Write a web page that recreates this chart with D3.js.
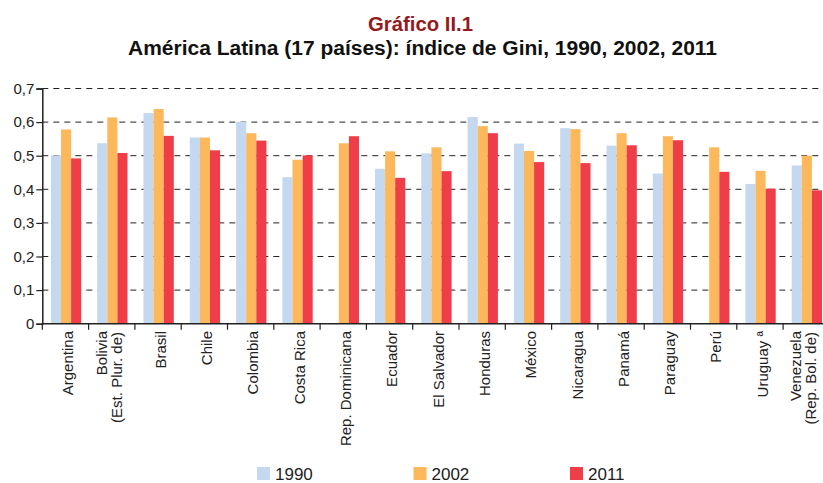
<!DOCTYPE html>
<html>
<head>
<meta charset="utf-8">
<script src="https://cdn.jsdelivr.net/npm/d3@7"></script>
<style>
  body { margin: 0; background: #fff; }
  svg { display: block; }
</style>
</head>
<body>
<svg id="chart" width="823" height="483"></svg>
<script>
const countries = ['Argentina', 'Bolivia|(Est. Plur. de)', 'Brasil', 'Chile', 'Colombia', 'Costa Rica',
  'Rep. Dominicana', 'Ecuador', 'El Salvador', 'Honduras', 'México', 'Nicaragua', 'Panamá',
  'Paraguay', 'Perú', 'Uruguay ª', 'Venezuela|(Rep. Bol. de)'];
const years = ['1990', '2002', '2011'];
const gini1990 = [0.501, 0.537, 0.627, 0.554, 0.601, 0.436, null, 0.461, 0.507, 0.615, 0.536, 0.582, 0.530, 0.447, null, 0.416, 0.471];
const gini2002 = [0.578, 0.614, 0.639, 0.554, 0.567, 0.488, 0.537, 0.513, 0.525, 0.588, 0.514, 0.579, 0.567, 0.558, 0.525, 0.455, 0.500];
const gini2011 = [0.492, 0.508, 0.559, 0.516, 0.545, 0.501, 0.558, 0.434, 0.454, 0.567, 0.481, 0.478, 0.531, 0.546, 0.452, 0.402, 0.397];
const yTicks = [0, 0.1, 0.2, 0.3, 0.4, 0.5, 0.6, 0.7];

const colors = { '1990': '#c4d8ef', '2002': '#fcb85a', '2011': '#ef3e48' };
const series = { '1990': gini1990, '2002': gini2002, '2011': gini2011 };
const font = '"Liberation Sans", Arial, sans-serif';

const svg = d3.select('#chart');
const plotLeft = 42.3, plotTop = 88.5, plotBottom = 323.7;

const x = d3.scaleBand().domain(countries).range([plotLeft, plotLeft + 17 * 46.3]);
const x1 = d3.scaleBand().domain(years).range([8.6, 38.9]);
const y = d3.scaleLinear().domain([0, 0.7]).range([plotBottom, plotTop]);

// titles (condensed look via textLength)
svg.append('text')
  .attr('x', 368).attr('y', 31)
  .attr('font-family', font)
  .attr('font-weight', 'bold')
  .attr('font-size', '21px')
  .attr('fill', '#931b1d')
  .attr('textLength', 105)
  .attr('lengthAdjust', 'spacingAndGlyphs')
  .text('Gráfico II.1');

svg.append('text')
  .attr('x', 128).attr('y', 55)
  .attr('font-family', font)
  .attr('font-weight', 'bold')
  .attr('font-size', '20px')
  .attr('fill', '#111')
  .attr('textLength', 589)
  .attr('lengthAdjust', 'spacingAndGlyphs')
  .text('América Latina (17 países): índice de Gini, 1990, 2002, 2011');

// gridlines
svg.append('g')
  .selectAll('line')
  .data(yTicks.filter(d => d > 0))
  .join('line')
  .attr('x1', plotLeft).attr('x2', 823)
  .attr('y1', d => y(d)).attr('y2', d => y(d))
  .attr('stroke', '#222')
  .attr('stroke-width', 1)
  .attr('stroke-dasharray', '6,5');

// bars
const groups = svg.append('g')
  .selectAll('g')
  .data(countries)
  .join('g')
  .attr('transform', d => `translate(${x(d)},0)`);

groups.selectAll('rect')
  .data((d, i) => years.map(yr => ({ yr, v: series[yr][i] })).filter(o => o.v != null))
  .join('rect')
  .attr('x', d => x1(d.yr))
  .attr('width', x1.bandwidth())
  .attr('y', d => y(d.v))
  .attr('height', d => y(0) - y(d.v))
  .attr('fill', d => colors[d.yr]);

// y axis
const yAxis = svg.append('g')
  .attr('transform', `translate(${plotLeft},0)`)
  .call(d3.axisLeft(y).tickValues(yTicks).tickFormat(d => d === 0 ? '0' : d3.format('.1f')(d).replace('.', ',')).tickSizeOuter(0).tickSize(6));
yAxis.select('.domain').attr('stroke', '#222').attr('stroke-width', 1.5);
yAxis.selectAll('line').attr('stroke', '#222').attr('stroke-width', 1.2);
yAxis.selectAll('text')
  .attr('font-family', font)
  .attr('font-size', '15px')
  .attr('fill', '#222')
  .attr('x', -8);

// x axis line and category ticks
svg.append('line')
  .attr('x1', plotLeft).attr('x2', 823)
  .attr('y1', plotBottom).attr('y2', plotBottom)
  .attr('stroke', '#222').attr('stroke-width', 1.5);

svg.append('g')
  .selectAll('line')
  .data(countries)
  .join('line')
  .attr('x1', d => x(d)).attr('x2', d => x(d))
  .attr('y1', plotBottom).attr('y2', plotBottom + 6)
  .attr('stroke', '#222').attr('stroke-width', 1.2);

// x labels
const labels = svg.append('g')
  .selectAll('text')
  .data(countries)
  .join('text')
  .attr('transform', d => `translate(${x(d) + x.bandwidth() / 2 + 2.5},331) rotate(-90)`)
  .attr('text-anchor', 'end')
  .attr('font-family', font)
  .attr('font-size', '15px')
  .attr('fill', '#222');

labels.each(function (d) {
  const parts = d.split('|');
  const t = d3.select(this);
  if (parts.length === 1) {
    t.append('tspan').attr('x', 0).attr('dy', '0.35em').text(parts[0]);
  } else {
    t.append('tspan').attr('x', 0).attr('y', -13).attr('dy', '0.35em').text(parts[0]);
    t.append('tspan').attr('x', -1).attr('y', 2).attr('dy', '0.35em').text(parts[1]);
  }
});

// legend
const legend = svg.append('g')
  .selectAll('g')
  .data(years)
  .join('g')
  .attr('transform', (d, i) => `translate(${257 + i * 156.5},467)`);

legend.append('rect')
  .attr('width', 13).attr('height', 13)
  .attr('fill', d => colors[d]);

legend.append('text')
  .attr('x', 18).attr('y', 12.5)
  .attr('font-family', font)
  .attr('font-size', '17px')
  .attr('fill', '#222')
  .text(d => d);
</script>
</body>
</html>
